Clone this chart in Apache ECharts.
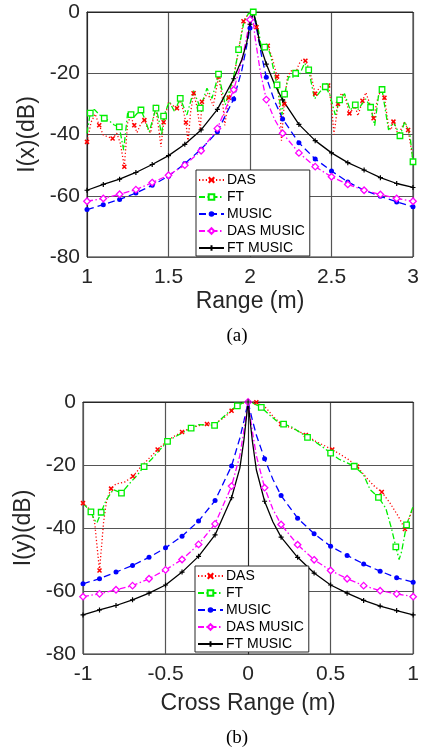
<!DOCTYPE html>
<html><head><meta charset="utf-8">
<script src="https://cdn.jsdelivr.net/npm/echarts@6/dist/echarts.min.js"></script>
<style>html,body{margin:0;padding:0;background:#fff}#c{width:422px;height:750px}</style>
</head><body><div id="c"></div>
<script>
// ---------- data ----------
const seriesNames = ['DAS', 'FT', 'MUSIC', 'DAS MUSIC', 'FT MUSIC'];
const yTicks = [-80, -60, -40, -20, 0];
const rangeTicks = [1, 1.5, 2, 2.5, 3];
const crossTicks = [-1, -0.5, 0, 0.5, 1];

// (a) Range profile
const rangeDAS = [[1.00,-42.4],[1.025,-36],[1.05,-33.3],[1.075,-37],[1.10,-40.2],[1.13,-40.8],[1.157,-41.3],[1.183,-39.6],[1.205,-43],[1.229,-50.5],[1.25,-35.8],[1.27,-34.4],[1.29,-37],[1.307,-39.4],[1.33,-36.5],[1.352,-35.3],[1.372,-38],[1.39,-39.5],[1.42,-31.0],[1.44,-38],[1.454,-44.0],[1.47,-36],[1.50,-29.5],[1.525,-30.5],[1.552,-31.4],[1.57,-28.4],[1.59,-32],[1.607,-36.1],[1.62,-42.5],[1.635,-33],[1.654,-26.5],[1.675,-31],[1.695,-38.5],[1.705,-29.3],[1.74,-26.5],[1.775,-30.6],[1.807,-21.1],[1.83,-28],[1.845,-37],[1.87,-28],[1.90,-21.5],[1.93,-12.5],[1.96,-3],[1.99,-0.5],[2.02,0],[2.04,-5],[2.055,-10.2],[2.084,-11.3],[2.109,-11],[2.13,-14],[2.145,-16.7],[2.166,-21.1],[2.186,-33.6],[2.193,-42],[2.21,-30],[2.23,-21.1],[2.258,-18.9],[2.28,-20],[2.30,-17],[2.319,-15.6],[2.34,-15.9],[2.36,-18.3],[2.38,-22],[2.40,-26.7],[2.43,-24.5],[2.462,-23.7],[2.48,-24],[2.50,-30.3],[2.515,-40],[2.54,-30],[2.56,-26.5],[2.585,-28],[2.61,-33.1],[2.646,-30.9],[2.662,-33.9],[2.69,-29],[2.711,-26.3],[2.735,-30],[2.758,-34.7],[2.78,-29],[2.805,-24.9],[2.825,-28],[2.85,-37.4],[2.865,-38.5],[2.88,-35.8],[2.91,-40.2],[2.948,-35.8],[2.97,-38.5],[3.0,-48.3]];
const rangeFT = [[1.00,-39.6],[1.02,-33],[1.045,-31.8],[1.075,-33.5],[1.106,-34.7],[1.135,-35.5],[1.167,-36.9],[1.198,-37.5],[1.225,-45.1],[1.249,-33.1],[1.27,-33.5],[1.286,-34.4],[1.31,-33],[1.331,-32.0],[1.355,-35],[1.382,-39.1],[1.423,-31.4],[1.44,-35],[1.458,-40.2],[1.47,-34],[1.505,-29.3],[1.537,-32.5],[1.572,-28.2],[1.613,-33.6],[1.654,-25.7],[1.695,-31.4],[1.736,-24.9],[1.767,-28.2],[1.807,-20.3],[1.848,-30.3],[1.90,-21.1],[1.93,-12.3],[1.96,-4],[1.99,-0.5],[2.02,0],[2.053,-6.3],[2.074,-12.9],[2.09,-11.5],[2.104,-10.9],[2.125,-14],[2.166,-23.8],[2.186,-30.3],[2.196,-33.6],[2.212,-26.8],[2.237,-21.1],[2.26,-21.5],[2.28,-20],[2.298,-21.1],[2.335,-16.7],[2.36,-18.9],[2.396,-28.4],[2.43,-26],[2.462,-24.4],[2.49,-27],[2.523,-33.6],[2.55,-28.7],[2.58,-26.7],[2.615,-32.0],[2.646,-30.3],[2.66,-32],[2.71,-28.4],[2.74,-31.1],[2.765,-37.1],[2.79,-26.7],[2.81,-25.3],[2.85,-38.5],[2.88,-35.8],[2.92,-40.4],[2.95,-35.8],[2.98,-39.6],[3.0,-48.9]];
const rangeMUSIC = [[1.0,-64.5],[1.1,-62.9],[1.2,-61.2],[1.3,-59.1],[1.4,-56.6],[1.5,-53.6],[1.6,-49.5],[1.7,-44.8],[1.8,-39.1],[1.9,-28.4],[1.95,-19],[1.98,-11],[2.0,-5.2],[2.02,0],[2.04,-5.2],[2.07,-14],[2.1,-21.3],[2.15,-29],[2.2,-34.9],[2.3,-42.7],[2.4,-48.0],[2.5,-51.9],[2.6,-55.5],[2.7,-58.2],[2.8,-60.2],[2.9,-62.0],[3.0,-63.6]];
const rangeDASMUSIC = [[1.0,-61.8],[1.1,-60.9],[1.2,-59.5],[1.3,-58.0],[1.4,-55.7],[1.5,-53.3],[1.6,-50.0],[1.7,-45.3],[1.8,-38.0],[1.9,-25.4],[1.95,-16],[1.98,-8],[2.0,-2.5],[2.015,0],[2.03,-8],[2.063,-19.4],[2.1,-28.6],[2.15,-35],[2.2,-39.6],[2.3,-46.0],[2.4,-50.5],[2.5,-53.8],[2.6,-56.3],[2.7,-58.2],[2.8,-59.6],[2.9,-60.9],[3.0,-61.8]];
const rangeFTMUSIC = [[1.0,-58.2],[1.1,-56.3],[1.2,-54.6],[1.3,-52.4],[1.4,-49.8],[1.5,-46.9],[1.6,-43.2],[1.7,-38.5],[1.8,-31.8],[1.9,-21.8],[1.95,-15.5],[1.98,-10],[2.0,-4],[2.02,0],[2.04,-4],[2.06,-10.5],[2.1,-17.0],[2.15,-23.5],[2.2,-28.7],[2.3,-36.7],[2.4,-42.0],[2.5,-46.0],[2.6,-49.2],[2.7,-51.6],[2.8,-54.1],[2.9,-56.0],[3.0,-57.3]];

// (b) Cross-range profile
const crossDAS = [[-1.0,-32.1],[-0.956,-34.2],[-0.93,-38],[-0.9,-53.5],[-0.875,-38],[-0.857,-31.3],[-0.83,-27.5],[-0.80,-26.0],[-0.747,-25.4],[-0.697,-23.6],[-0.647,-20.4],[-0.598,-17.8],[-0.548,-15.1],[-0.50,-12.8],[-0.448,-10.9],[-0.40,-9.5],[-0.349,-8.3],[-0.30,-7.5],[-0.249,-7.0],[-0.20,-6.8],[-0.149,-5.1],[-0.10,-2.8],[-0.05,-0.6],[0,0],[0.05,-0.1],[0.11,-1.9],[0.15,-4.5],[0.2,-7.0],[0.25,-8.0],[0.3,-9.1],[0.35,-10.5],[0.41,-12.5],[0.46,-13.8],[0.51,-15.1],[0.56,-16.7],[0.61,-18.3],[0.66,-20.5],[0.71,-23.6],[0.76,-26.5],[0.81,-28.6],[0.86,-32.1],[0.91,-36.3],[0.95,-40.3],[0.975,-37],[1.0,-33.6]];
const crossFT = [[-1.0,-32.1],[-0.952,-34.9],[-0.93,-37.5],[-0.916,-38.4],[-0.89,-35],[-0.861,-31.3],[-0.817,-27.8],[-0.767,-28.9],[-0.72,-26],[-0.673,-23.3],[-0.63,-20.5],[-0.582,-18.0],[-0.535,-15.2],[-0.488,-12.5],[-0.44,-11],[-0.388,-9.5],[-0.345,-8.3],[-0.299,-7.2],[-0.25,-7.3],[-0.203,-7.4],[-0.155,-5],[-0.11,-2.8],[-0.065,-1.2],[-0.02,0],[0.03,-0.4],[0.08,-1.7],[0.125,-3.9],[0.17,-5.9],[0.215,-7],[0.263,-7.9],[0.31,-9.5],[0.36,-11.2],[0.41,-12.8],[0.455,-14.4],[0.50,-16.2],[0.549,-18.1],[0.60,-19.3],[0.643,-20.4],[0.70,-23.1],[0.739,-27.8],[0.79,-30.3],[0.834,-33.7],[0.868,-40],[0.895,-46],[0.915,-50],[0.93,-47.5],[0.96,-39],[1.0,-33.1]];
const crossMUSIC = [[-1,-57.7],[-0.9,-56.1],[-0.8,-54.0],[-0.7,-51.9],[-0.6,-49.3],[-0.5,-46.3],[-0.4,-42.6],[-0.3,-37.8],[-0.2,-31.3],[-0.1,-20.3],[-0.05,-11.5],[-0.025,-6],[0,0],[0.025,-5.5],[0.05,-10.5],[0.1,-18.0],[0.15,-24.5],[0.2,-29.7],[0.3,-36.9],[0.4,-41.8],[0.5,-45.8],[0.6,-48.7],[0.7,-51.4],[0.8,-53.7],[0.9,-55.8],[1.0,-57.2]];
const crossDASMUSIC = [[-1,-61.8],[-0.9,-60.9],[-0.8,-59.6],[-0.7,-58.3],[-0.6,-56.1],[-0.5,-53.3],[-0.4,-50.0],[-0.3,-45.2],[-0.2,-38.7],[-0.1,-26.7],[-0.05,-17],[-0.025,-9],[0,0],[0.025,-9],[0.05,-17],[0.1,-27.2],[0.15,-34],[0.2,-38.9],[0.3,-45.3],[0.4,-50.1],[0.5,-53.5],[0.6,-56.1],[0.7,-58.3],[0.8,-59.9],[0.9,-60.9],[1.0,-61.8]];
const crossFTMUSIC = [[-1,-67.6],[-0.9,-66.0],[-0.8,-64.6],[-0.7,-62.8],[-0.6,-60.7],[-0.5,-58.1],[-0.4,-54.0],[-0.3,-49.0],[-0.2,-42.2],[-0.1,-30.4],[-0.05,-21],[-0.025,-12],[0,0],[0.025,-12],[0.05,-21.5],[0.1,-31.5],[0.15,-38],[0.2,-42.9],[0.3,-49.3],[0.4,-54.3],[0.5,-58.1],[0.6,-60.7],[0.7,-63.0],[0.8,-64.8],[0.9,-66.2],[1.0,-67.6]];

// ---------- styles ----------
const FONT = '"Liberation Sans", Arial, Helvetica, sans-serif';
const TXT = '#262626';
const styles = {
  'DAS':       {color:'#ff0000', dash:[1.2,2.2], symbol:'path://M0,0L10,10M10,0L0,10', size:4, fill:'#ff0000', bw:1.5},
  'FT':        {color:'#00ee00', dash:[6,2.5,1.5,2.5], symbol:'rect', size:5.5, fill:'#ffffff', bw:1.3},
  'MUSIC':     {color:'#0000ff', dash:[7,4], symbol:'circle', size:5, fill:'#0000ff', bw:0},
  'DAS MUSIC': {color:'#ff00ff', dash:[6,2.5,1.5,2.5], symbol:'diamond', size:6.5, fill:'#ffffff', bw:1.3},
  'FT MUSIC':  {color:'#000000', dash:'solid', symbol:'path://M5,0L5,10M0,5L10,5', size:5, fill:'#000000', bw:1.2}
};
const isTenth = p => Math.abs(p[0]*10 - Math.round(p[0]*10)) < 1e-6;
const markRules = {
  'DAS': (p,i) => i % 3 === 0,
  'FT': (p,i) => i % 3 === 1,
  'MUSIC': isTenth, 'DAS MUSIC': isTenth, 'FT MUSIC': isTenth
};
function mkSeries(name, arr, gi) {
  const s = styles[name];
  const rule = markRules[name];
  return {
    type:'line', name, xAxisIndex:gi, yAxisIndex:gi,
    data: arr.map((p,i) => rule(p,i) ? {value:p} : {value:p, symbol:'none'}),
    symbol:s.symbol, symbolSize:s.size, showSymbol:true, clip:true,
    lineStyle:{color:s.color, width:1.3, type:s.dash},
    itemStyle:{color:s.fill, borderColor:s.color, borderWidth:s.bw},
    emphasis:{disabled:true}, animation:false
  };
}
function xAxis(gi, ticks, name, gap) {
  return {
    type:'value', gridIndex:gi, min:ticks[0], max:ticks[ticks.length-1], interval:ticks[1]-ticks[0],
    name, nameLocation:'middle', nameGap:gap,
    nameTextStyle:{fontFamily:FONT, fontSize:23, color:TXT},
    axisLine:{show:true, lineStyle:{color:TXT, width:1}}, axisTick:{show:false},
    axisLabel:{fontFamily:FONT, fontSize:21, color:TXT, margin:10},
    splitLine:{show:true, lineStyle:{color:'#555555', width:1.2}}
  };
}
function yAxis(gi, name) {
  return {
    type:'value', gridIndex:gi, min:yTicks[0], max:yTicks[yTicks.length-1], interval:yTicks[1]-yTicks[0],
    name, nameLocation:'middle', nameGap:44, nameRotate:90,
    nameTextStyle:{fontFamily:FONT, fontSize:23, color:TXT},
    axisLine:{show:true, lineStyle:{color:TXT, width:1}}, axisTick:{show:false},
    axisLabel:{fontFamily:FONT, fontSize:21, color:TXT, margin:7},
    splitLine:{show:true, lineStyle:{color:'#555555', width:1.2}}
  };
}
function legend(left, top) {
  return {
    data:seriesNames, orient:'vertical', left, top,
    itemWidth:25, itemHeight:7, itemGap:3,
    padding:[3,5,1,2], backgroundColor:'#ffffff', borderColor:'#262626', borderWidth:1,
    textStyle:{fontFamily:FONT, fontSize:14, color:'#000', padding:[0,0,0,-2]},
    selectedMode:false
  };
}

const rangeSets = [rangeDAS, rangeFT, rangeMUSIC, rangeDASMUSIC, rangeFTMUSIC];
const crossSets = [crossDAS, crossFT, crossMUSIC, crossDASMUSIC, crossFTMUSIC];

const option = {
  backgroundColor:'#ffffff',
  animation:false,
  grid:[
    {left:87, top:12, width:326, height:245, show:true, borderColor:TXT, borderWidth:1, backgroundColor:'#fff'},
    {left:83, top:402, width:334, height:252, show:true, borderColor:TXT, borderWidth:1, backgroundColor:'#fff'}
  ],
  xAxis:[xAxis(0, rangeTicks, 'Range (m)', 33), xAxis(1, crossTicks, 'Cross Range (m)', 38)],
  yAxis:[yAxis(0, 'I(x)(dB)'), yAxis(1, 'I(y)(dB)')],
  legend:[legend(196, 170), legend(195, 566)],
  series:[
    ...seriesNames.map((n,k) => mkSeries(n, rangeSets[k], 0)),
    ...seriesNames.map((n,k) => mkSeries(n, crossSets[k], 1))
  ],
  graphic:[
    {type:'text', x:237, y:336, style:{text:'(a)', font:'19px "Liberation Serif", "Times New Roman", serif', fill:'#000', align:'center', verticalAlign:'middle'}},
    {type:'text', x:237, y:738, style:{text:'(b)', font:'19px "Liberation Serif", "Times New Roman", serif', fill:'#000', align:'center', verticalAlign:'middle'}}
  ]
};
const chart = echarts.init(document.getElementById('c'), null, {renderer:'canvas'});
chart.setOption(option);
</script>
</body></html>
